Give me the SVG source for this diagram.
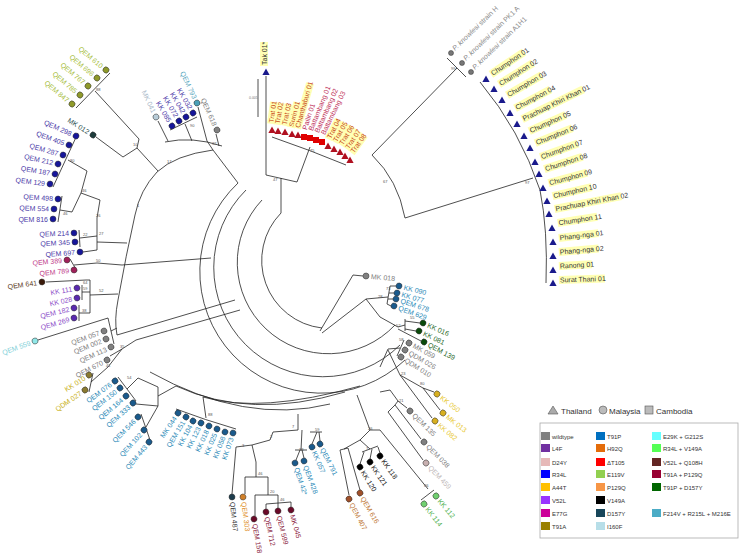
<svg xmlns="http://www.w3.org/2000/svg" width="740" height="557" viewBox="0 0 740 557">
<style>
text{font-family:"Liberation Sans",Arial,sans-serif}
.l{font-size:7px}
.b{font-size:4px;fill:#555}
.br{fill:none;stroke:#222;stroke-width:0.8}
.d{stroke:#333;stroke-width:0.5}
.hl{fill:#ffffb4}
.lg{font-size:6px;fill:#333}
.lt{font-size:8px;fill:#333}
</style>
<defs>
<path id="tri" d="M0,-3.6 L3.6,3 L-3.6,3Z"/>
</defs>
<rect width="740" height="557" fill="#fff"/>

<g id="connectors">
<!-- top-left -->
<path class="br" d="M110,73 L76,108 M95,91 L139,139 M96,137 L123,157 L137,148 L139,139 M137,148 L158,171"/>
<path class="br" d="M78,133 L53,187 M68,160 L87,171 L81,193 M62,196 L58,222 M60,210 L72,212 L81,193 M81,193 L100,200 L97,218 M79,230 L80,247 M80,238 L97,236 M83,252 L97,250 M97,218 L97,250 M97,242 L127,243 M70,259 L77,271 M74,265 L97,263 L122,265"/>
<path class="br" d="M213,150 Q175,155 157,172 Q140,190 135,215 Q126,255 118,300 Q114,320 117,335"/>
<!-- top inner -->
<path class="br" d="M158,121 L168,141 M170,130 L197,117 M185,124 L192,141 M198,107 L207,141 M216,134 L219,146 M165,142 Q192,136 222,146 M207,141 L213,150 M213,150 L238,183"/>
<!-- lower-left -->
<path class="br" d="M46,282 L86,280 M82,285 L82,300 M79,305 L79,321 M82,292 L90,292 M79,313 L90,313 M86,280 L90,280 M90,280 L90,313 M90,295 L118,294"/>
<path class="br" d="M38,340 L108,318 M108,318 L114,344 M111,331 L117,328 M110,356 L122,349 M122,349 L136,340 M93,373 L89,392 M91,382 L108,367 L122,349"/>
<!-- blue lower-left -->
<path class="br" d="M118,377 L136,401 M127,389 L138,378 L158,387 M141,414 L150,440 M146,427 L158,406 M136,404 L158,406 M158,387 L158,406 M158,396 L176,386"/>
<path class="br" d="M176,409 Q205,420 236,429 M206,418 L203,397"/>
<!-- bottom arcs -->
<path class="br" d="M150,372 Q245,425 330,404 M176,386 Q250,420 345,392 M203,397 Q260,414 360,386"/>
<!-- bottom centre -->
<path class="br" d="M232,494 L236,447 L252,445 L256,462 M245,494 L245,477 L268,477 M256,477 L256,462 M255,516 L255,495 L278,495 M268,495 L268,477 M266,509 L266,504 L291,502 L291,507 M278,508 L278,495 M252,445 L270,440 L273,432 L298,430 M296,460 L300,450 M304,458 L302,450 M295,450 L307,450 M301,450 L302,430 M312,444 L317,432 M320,441 L319,432 M310,432 L322,432 M298,430 L298,414"/>
<!-- bottom right -->
<path class="br" d="M349,495 L340,450 M360,490 L348,448 M340,450 L348,448 M344,449 L360,440 M360,464 L364,452 M370,459 L372,449 M380,453 L378,447 M362,452 L378,446 M370,449 L360,440 M360,440 L370,430 L380,430 M380,430 L428,489 M421,500 L434,490 M370,430 L357,395"/>
<path class="br" d="M423,460 L388,412 M421,439 L395,405 M407,408 L398,401 M388,412 L395,405 L398,401 L390,390 M390,390 L380,392"/>
<path class="br" d="M400,375 L423,388 M423,388 L434,392 M423,388 L440,410 M400,375 L432,418 M400,375 L388,350"/>
<path class="br" d="M404,340 L397,356 M400,348 L388,349 M388,349 L380,367 M420,323 L405,321 M416,331 L405,329 M405,319 L405,331 M405,325 L398,327 M421,341 L398,329 M398,327 L380,317 M390,286 L387,304 M396,286 L390,286 M394,293 L389,293 M393,299 L388,299 M391,306 L387,304 M388,297 L366,299 L380,317 M366,299 L322,333 M363,276 L353,275 L320,331"/>
<!-- centre -->
<path class="br" d="M266,76 L266,175 L297,182 M297,182 L310,147 M281,178 L281,213"/>
<path class="br" d="M272,137 Q310,150 346,165"/>
<path class="br" d="M447,58 L466,77 M457,68 L372,155 M372,155 Q398,180 405,218 M405,218 L533,178"/>
<path class="br" d="M480,82 Q520,130 540,190 Q548,230 546,283"/>
<path class="br" d="M281,213 A68,68 0 0,0 322,328 M262,200 A90,90 0 0,0 395,325 M246,190 A108,108 0 0,0 400,345 M238,183 A120,120 0 0,0 405,360"/>
<path class="br" d="M122,265 L211,258 M117,335 L235,300 M136,340 L240,310"/>
<path class="br" d="M258,79 L258,117"/>
</g>
<text x="249" y="99" style="font-size:3.5px;fill:#777">0.005</text>
<g id="bootstrap">
<text class="b" x="96" y="91">88</text>
<text class="b" x="133" y="146">10</text>
<text class="b" x="167" y="163">17</text>
<text class="b" x="70" y="162">80</text>
<text class="b" x="82" y="192">46</text>
<text class="b" x="63" y="215">46</text>
<text class="b" x="96" y="217">26</text>
<text class="b" x="83" y="236">22</text>
<text class="b" x="99" y="235">27</text>
<text class="b" x="96" y="262">50</text>
<text class="b" x="137" y="207">1</text>
<text class="b" x="99" y="292">52</text>
<text class="b" x="83" y="284">64</text>
<text class="b" x="83" y="290">59</text>
<text class="b" x="82" y="312">38</text>
<text class="b" x="120" y="348">35</text>
<text class="b" x="106" y="367">41</text>
<text class="b" x="127" y="379">54</text>
<text class="b" x="190" y="127">90</text>
<text class="b" x="212" y="145">32</text>
<text class="b" x="273" y="181">47</text>
<text class="b" x="310" y="152">75</text>
<text class="b" x="383" y="183">67</text>
<text class="b" x="525" y="184">97</text>
<text class="b" x="451" y="70">99</text>
<text class="b" x="386" y="290">73</text>
<text class="b" x="378" y="298">28</text>
<text class="b" x="410" y="319">55</text>
<text class="b" x="396" y="327">52</text>
<text class="b" x="399" y="341">58</text>
<text class="b" x="401" y="375">23</text>
<text class="b" x="420" y="385">80</text>
<text class="b" x="399" y="402">21</text>
<text class="b" x="424" y="487">86</text>
<text class="b" x="368" y="430">26</text>
<text class="b" x="366" y="450">7</text>
<text class="b" x="299" y="451">33</text>
<text class="b" x="292" y="428">7</text>
<text class="b" x="270" y="438">2</text>
<text class="b" x="242" y="447">3</text>
<text class="b" x="258" y="475">46</text>
<text class="b" x="270" y="493">20</text>
<text class="b" x="280" y="501">46</text>
<text class="b" x="315" y="431">59</text>
<text class="b" x="208" y="416">88</text>
</g>

<!-- Tak -->
<g id="n-Tak01"><use href="#tri" x="266" y="72" fill="#1a1a8c"/><g transform="translate(266,66) rotate(-90)"><rect class="hl" x="0" y="-6" width="24" height="8"/><text class="l" x="1" y="0.5" fill="#333">Tak 01*</text></g></g>

<!-- Trat cluster -->
<g id="n-Trat01"><use href="#tri" x="272" y="130" fill="#b01020"/><g transform="translate(273,124) rotate(-82)"><rect class="hl" x="0" y="-6" width="22" height="8"/><text class="l" x="1" y="0.5" fill="#c84a1a">Trat 01</text></g></g>
<g id="n-Trat02"><use href="#tri" x="278" y="131" fill="#b01020"/><g transform="translate(279,125) rotate(-80)"><rect class="hl" x="0" y="-6" width="22" height="8"/><text class="l" x="1" y="0.5" fill="#c84a1a">Trat 02</text></g></g>
<g id="n-Trat03"><use href="#tri" x="285" y="132" fill="#b01020"/><g transform="translate(286,126) rotate(-78)"><rect class="hl" x="0" y="-6" width="22" height="8"/><text class="l" x="1" y="0.5" fill="#c84a1a">Trat 03</text></g></g>
<g id="n-Surin01"><use href="#tri" x="292" y="134" fill="#b01020"/><g transform="translate(293,128) rotate(-76)"><rect class="hl" x="0" y="-6" width="26" height="8"/><text class="l" x="1" y="0.5" fill="#c84a1a">Surin 01</text></g></g>
<g id="n-Chanthaburi01"><use href="#tri" x="298" y="135" fill="#b01020"/><g transform="translate(299,129) rotate(-74)"><rect class="hl" x="0" y="-6" width="47" height="8"/><text class="l" x="1" y="0.5" fill="#c84a1a">Chanthaburi 01</text></g></g>
<g id="n-Pailin01"><rect x="301" y="134" width="6" height="6" fill="#e00000"/><text class="l" transform="translate(306,131) rotate(-72)" x="1" y="0.5" fill="#c0305a">Pailin 01</text></g>
<g id="n-Battambang01"><rect x="307" y="135" width="6" height="6" fill="#e00000"/><text class="l" transform="translate(312,132) rotate(-68)" x="1" y="0.5" fill="#c0305a">Battambang 01</text></g>
<g id="n-Battambang02"><rect x="313" y="137" width="6" height="6" fill="#e00000"/><text class="l" transform="translate(318,134) rotate(-66)" x="1" y="0.5" fill="#c0305a">Battambang 02</text></g>
<g id="n-Battambang03"><rect x="319" y="139" width="6" height="6" fill="#e00000"/><text class="l" transform="translate(324,136) rotate(-64)" x="1" y="0.5" fill="#c0305a">Battambang 03</text></g>
<g id="n-Trat04"><use href="#tri" x="328" y="146" fill="#b01020"/><g transform="translate(330,140) rotate(-62)"><rect class="hl" x="0" y="-6" width="22" height="8"/><text class="l" x="1" y="0.5" fill="#c84a1a">Trat 04</text></g></g>
<g id="n-Trat05"><use href="#tri" x="334" y="149" fill="#b01020"/><g transform="translate(336,143) rotate(-60)"><rect class="hl" x="0" y="-6" width="22" height="8"/><text class="l" x="1" y="0.5" fill="#c84a1a">Trat 05</text></g></g>
<g id="n-Trat06"><use href="#tri" x="340" y="152" fill="#b01020"/><g transform="translate(342,146) rotate(-58)"><rect class="hl" x="0" y="-6" width="22" height="8"/><text class="l" x="1" y="0.5" fill="#c84a1a">Trat 06</text></g></g>
<g id="n-Trat07"><use href="#tri" x="345" y="156" fill="#b01020"/><g transform="translate(348,150) rotate(-56)"><rect class="hl" x="0" y="-6" width="22" height="8"/><text class="l" x="1" y="0.5" fill="#c84a1a">Trat 07</text></g></g>
<g id="n-Trat08"><use href="#tri" x="350" y="160" fill="#b01020"/><g transform="translate(353,154) rotate(-54)"><rect class="hl" x="0" y="-6" width="22" height="8"/><text class="l" x="1" y="0.5" fill="#c84a1a">Trat 08</text></g></g>

<!-- knowlesi -->
<g id="n-PkH"><circle class="d" cx="451" cy="53" r="2.5" fill="#777"/><text class="l" transform="translate(455,51) rotate(-44)" fill="#888"><tspan font-style="italic">P. knowlesi</tspan> strain H</text></g>
<g id="n-PkPK1A"><circle class="d" cx="462" cy="63" r="2.5" fill="#777"/><text class="l" transform="translate(466,61) rotate(-44)" fill="#888"><tspan font-style="italic">P. knowlesi</tspan> strain PK1 A</text></g>
<g id="n-PkA1H1"><circle class="d" cx="471" cy="72" r="2.5" fill="#777"/><text class="l" transform="translate(475,70) rotate(-44)" fill="#888"><tspan font-style="italic">P. knowlesi</tspan> strain A1H1</text></g>

<!-- Thai clade -->
<g id="n-Ch01"><use href="#tri" x="486" y="79" fill="#1a1a8c"/><g transform="translate(492,76) rotate(-34)"><rect class="hl" x="0" y="-6" width="40" height="8"/><text class="l" x="1" y="0.5" fill="#333">Chumphon 01</text></g></g>
<g id="n-Ch02"><use href="#tri" x="494" y="89" fill="#1a1a8c"/><g transform="translate(500,86) rotate(-32)"><rect class="hl" x="0" y="-6" width="40" height="8"/><text class="l" x="1" y="0.5" fill="#333">Chumphon 02</text></g></g>
<g id="n-Ch03"><use href="#tri" x="502" y="100" fill="#1a1a8c"/><g transform="translate(508,97) rotate(-30)"><rect class="hl" x="0" y="-6" width="40" height="8"/><text class="l" x="1" y="0.5" fill="#333">Chumphon 03</text></g></g>
<g id="n-Ch04"><use href="#tri" x="510" y="113" fill="#1a1a8c"/><g transform="translate(516,110) rotate(-28)"><rect class="hl" x="0" y="-6" width="40" height="8"/><text class="l" x="1" y="0.5" fill="#333">Chumphon 04</text></g></g>
<g id="n-PKK01"><use href="#tri" x="517" y="124" fill="#1a1a8c"/><g transform="translate(523,121) rotate(-26)"><rect class="hl" x="0" y="-6" width="68" height="8"/><text class="l" x="1" y="0.5" fill="#333">Prachuap Khiri Khan 01</text></g></g>
<g id="n-Ch05"><use href="#tri" x="524" y="136" fill="#1a1a8c"/><g transform="translate(530,133) rotate(-24)"><rect class="hl" x="0" y="-6" width="40" height="8"/><text class="l" x="1" y="0.5" fill="#333">Chumphon 05</text></g></g>
<g id="n-Ch06"><use href="#tri" x="530" y="148" fill="#1a1a8c"/><g transform="translate(536,145) rotate(-22)"><rect class="hl" x="0" y="-6" width="40" height="8"/><text class="l" x="1" y="0.5" fill="#333">Chumphon 06</text></g></g>
<g id="n-Ch07"><use href="#tri" x="535" y="162" fill="#1a1a8c"/><g transform="translate(541,159) rotate(-20)"><rect class="hl" x="0" y="-6" width="40" height="8"/><text class="l" x="1" y="0.5" fill="#333">Chumphon 07</text></g></g>
<g id="n-Ch08"><use href="#tri" x="539" y="174" fill="#1a1a8c"/><g transform="translate(545,171) rotate(-18)"><rect class="hl" x="0" y="-6" width="40" height="8"/><text class="l" x="1" y="0.5" fill="#333">Chumphon 08</text></g></g>
<g id="n-Ch09"><use href="#tri" x="543" y="188" fill="#1a1a8c"/><g transform="translate(549,185) rotate(-15)"><rect class="hl" x="0" y="-6" width="40" height="8"/><text class="l" x="1" y="0.5" fill="#333">Chumphon 09</text></g></g>
<g id="n-Ch10"><use href="#tri" x="547" y="201" fill="#1a1a8c"/><g transform="translate(553,198) rotate(-13)"><rect class="hl" x="0" y="-6" width="40" height="8"/><text class="l" x="1" y="0.5" fill="#333">Chumphon 10</text></g></g>
<g id="n-PKK02"><use href="#tri" x="549" y="214" fill="#1a1a8c"/><g transform="translate(555,211) rotate(-11)"><rect class="hl" x="0" y="-6" width="68" height="8"/><text class="l" x="1" y="0.5" fill="#333">Prachuap Khiri Khan 02</text></g></g>
<g id="n-Ch11"><use href="#tri" x="552" y="228" fill="#1a1a8c"/><g transform="translate(558,225) rotate(-9)"><rect class="hl" x="0" y="-6" width="40" height="8"/><text class="l" x="1" y="0.5" fill="#333">Chumphon 11</text></g></g>
<g id="n-Pn01"><use href="#tri" x="553" y="242" fill="#1a1a8c"/><g transform="translate(559,240) rotate(-7)"><rect class="hl" x="0" y="-6" width="40" height="8"/><text class="l" x="1" y="0.5" fill="#333">Phang-nga 01</text></g></g>
<g id="n-Pn02"><use href="#tri" x="553" y="256" fill="#1a1a8c"/><g transform="translate(559,254) rotate(-5)"><rect class="hl" x="0" y="-6" width="40" height="8"/><text class="l" x="1" y="0.5" fill="#333">Phang-nga 02</text></g></g>
<g id="n-Ranong01"><use href="#tri" x="553" y="270" fill="#1a1a8c"/><g transform="translate(559,268) rotate(-3)"><rect class="hl" x="0" y="-6" width="33" height="8"/><text class="l" x="1" y="0.5" fill="#333">Ranong 01</text></g></g>
<g id="n-Surat01"><use href="#tri" x="553" y="283" fill="#1a1a8c"/><g transform="translate(559,282) rotate(-2)"><rect class="hl" x="0" y="-6" width="46" height="8"/><text class="l" x="1" y="0.5" fill="#333">Surat Thani 01</text></g></g>

<!-- left side leaves -->
<g id="n-QEM610" transform="translate(106,70) rotate(40)"><circle class="d" r="3" fill="#8f9a2a"/><text class="l" x="-5" y="2.5" text-anchor="end" fill="#a6bd3c">QEM 610</text></g>
<g id="n-QEM696" transform="translate(97,78) rotate(40)"><circle class="d" r="3" fill="#8f9a2a"/><text class="l" x="-5" y="2.5" text-anchor="end" fill="#a6bd3c">QEM 696</text></g>
<g id="n-QEM767" transform="translate(88,86) rotate(40)"><circle class="d" r="3" fill="#8f9a2a"/><text class="l" x="-5" y="2.5" text-anchor="end" fill="#a6bd3c">QEM 767</text></g>
<g id="n-QEM785" transform="translate(80,95) rotate(40)"><circle class="d" r="3" fill="#8f9a2a"/><text class="l" x="-5" y="2.5" text-anchor="end" fill="#a6bd3c">QEM 785</text></g>
<g id="n-QEM847" transform="translate(72,104) rotate(40)"><circle class="d" r="3" fill="#8f9a2a"/><text class="l" x="-5" y="2.5" text-anchor="end" fill="#a6bd3c">QEM 847</text></g>
<g id="n-MK012" transform="translate(93,135) rotate(32)"><circle class="d" r="3" fill="#1e3c3c"/><text class="l" x="-5" y="2.5" text-anchor="end" fill="#2e5050">MK 012</text></g>
<g id="n-QEM298" transform="translate(76,136) rotate(24)"><circle class="d" r="3" fill="#16169a"/><text class="l" x="-5" y="2.5" text-anchor="end" fill="#4a3aa8">QEM 298</text></g>
<g id="n-QEM405" transform="translate(69,145) rotate(20)"><circle class="d" r="3" fill="#16169a"/><text class="l" x="-5" y="2.5" text-anchor="end" fill="#4a3aa8">QEM 405</text></g>
<g id="n-QEM287" transform="translate(63,155) rotate(16)"><circle class="d" r="3" fill="#16169a"/><text class="l" x="-5" y="2.5" text-anchor="end" fill="#4a3aa8">QEM 287</text></g>
<g id="n-QEM212" transform="translate(58,164) rotate(13)"><circle class="d" r="3" fill="#16169a"/><text class="l" x="-5" y="2.5" text-anchor="end" fill="#4a3aa8">QEM 212</text></g>
<g id="n-QEM187" transform="translate(55,174) rotate(10)"><circle class="d" r="3" fill="#16169a"/><text class="l" x="-5" y="2.5" text-anchor="end" fill="#4a3aa8">QEM 187</text></g>
<g id="n-QEM129" transform="translate(50,184) rotate(7)"><circle class="d" r="3" fill="#16169a"/><text class="l" x="-5" y="2.5" text-anchor="end" fill="#4a3aa8">QEM 129</text></g>
<g id="n-QEM498" transform="translate(58,199) rotate(4)"><circle class="d" r="3" fill="#16169a"/><text class="l" x="-5" y="2.5" text-anchor="end" fill="#4a3aa8">QEM 498</text></g>
<g id="n-QEM554" transform="translate(54,209) rotate(2)"><circle class="d" r="3" fill="#16169a"/><text class="l" x="-5" y="2.5" text-anchor="end" fill="#4a3aa8">QEM 554</text></g>
<g id="n-QEM816" transform="translate(53,219) rotate(0)"><circle class="d" r="3" fill="#16169a"/><text class="l" x="-5" y="2.5" text-anchor="end" fill="#4a3aa8">QEM 816</text></g>
<g id="n-QEM214" transform="translate(74,233) rotate(-2)"><circle class="d" r="3" fill="#16169a"/><text class="l" x="-5" y="2.5" text-anchor="end" fill="#4a3aa8">QEM 214</text></g>
<g id="n-QEM345" transform="translate(75,242) rotate(-3)"><circle class="d" r="3" fill="#16169a"/><text class="l" x="-5" y="2.5" text-anchor="end" fill="#4a3aa8">QEM 345</text></g>
<g id="n-QEM697" transform="translate(80,252) rotate(-4)"><circle class="d" r="3" fill="#16169a"/><text class="l" x="-5" y="2.5" text-anchor="end" fill="#4a3aa8">QEM 697</text></g>
<g id="n-QEM389" transform="translate(67,260) rotate(-5)"><circle class="d" r="3" fill="#a0205a"/><text class="l" x="-5" y="2.5" text-anchor="end" fill="#c03c8a">QEM 389</text></g>
<g id="n-QEM789" transform="translate(74,270) rotate(-6)"><circle class="d" r="3" fill="#a0205a"/><text class="l" x="-5" y="2.5" text-anchor="end" fill="#c03c8a">QEM 789</text></g>
<g id="n-QEM641" transform="translate(42,282) rotate(-8)"><circle class="d" r="3" fill="#3a1a0a"/><text class="l" x="-5" y="2.5" text-anchor="end" fill="#5a3a1a">QEM 641</text></g>
<g id="n-KK111" transform="translate(77,288) rotate(-10)"><circle class="d" r="3" fill="#5a2ab0"/><text class="l" x="-5" y="2.5" text-anchor="end" fill="#8a4ac8">KK 111</text></g>
<g id="n-KK028" transform="translate(77,298) rotate(-12)"><circle class="d" r="3" fill="#5a2ab0"/><text class="l" x="-5" y="2.5" text-anchor="end" fill="#8a4ac8">KK 028</text></g>
<g id="n-QEM182" transform="translate(74,308) rotate(-14)"><circle class="d" r="3" fill="#5a2ab0"/><text class="l" x="-5" y="2.5" text-anchor="end" fill="#8a4ac8">QEM 182</text></g>
<g id="n-QEM269" transform="translate(74,318) rotate(-16)"><circle class="d" r="3" fill="#5a2ab0"/><text class="l" x="-5" y="2.5" text-anchor="end" fill="#8a4ac8">QEM 269</text></g>
<g id="n-QEM559" transform="translate(35,341) rotate(-20)"><circle class="d" r="3" fill="#90e8e8"/><text class="l" x="-5" y="2.5" text-anchor="end" fill="#80d0d8">QEM 559</text></g>
<g id="n-QEM057" transform="translate(104,331) rotate(-20)"><circle class="d" r="3" fill="#808080"/><text class="l" x="-5" y="2.5" text-anchor="end" fill="#808080">QEM 057</text></g>
<g id="n-QEM002" transform="translate(106,339) rotate(-22)"><circle class="d" r="3" fill="#808080"/><text class="l" x="-5" y="2.5" text-anchor="end" fill="#808080">QEM 002</text></g>
<g id="n-QEM113" transform="translate(111,347) rotate(-24)"><circle class="d" r="3" fill="#808080"/><text class="l" x="-5" y="2.5" text-anchor="end" fill="#808080">QEM 113</text></g>
<g id="n-QEM670" transform="translate(107,360) rotate(-27)"><circle class="d" r="3" fill="#808080"/><text class="l" x="-5" y="2.5" text-anchor="end" fill="#808080">QEM 670</text></g>
<g id="n-KK010" transform="translate(89,375) rotate(-32)"><circle class="d" r="3" fill="#8a7a30"/><text class="l" x="-5" y="2.5" text-anchor="end" fill="#c8b020">KK 010</text></g>
<g id="n-QDM027" transform="translate(85,390) rotate(-34)"><circle class="d" r="3" fill="#8a7a30"/><text class="l" x="-5" y="2.5" text-anchor="end" fill="#c8b020">QDM 027</text></g>
<g id="n-QEM076" transform="translate(115,381) rotate(-36)"><circle class="d" r="3" fill="#1a5a8c"/><text class="l" x="-5" y="2.5" text-anchor="end" fill="#2b8ab8">QEM 076</text></g>
<g id="n-QEM150" transform="translate(120,388) rotate(-38)"><circle class="d" r="3" fill="#1a5a8c"/><text class="l" x="-5" y="2.5" text-anchor="end" fill="#2b8ab8">QEM 150</text></g>
<g id="n-QEM164" transform="translate(126,396) rotate(-40)"><circle class="d" r="3" fill="#1a5a8c"/><text class="l" x="-5" y="2.5" text-anchor="end" fill="#2b8ab8">QEM 164</text></g>
<g id="n-QEM333" transform="translate(133,403) rotate(-42)"><circle class="d" r="3" fill="#1a5a8c"/><text class="l" x="-5" y="2.5" text-anchor="end" fill="#2b8ab8">QEM 333</text></g>
<g id="n-QEM546" transform="translate(138,417) rotate(-45)"><circle class="d" r="3" fill="#1a5a8c"/><text class="l" x="-5" y="2.5" text-anchor="end" fill="#2b8ab8">QEM 546</text></g>
<g id="n-QEM102" transform="translate(144,430) rotate(-48)"><circle class="d" r="3" fill="#1a5a8c"/><text class="l" x="-5" y="2.5" text-anchor="end" fill="#2b8ab8">QEM 102</text></g>
<g id="n-QEM443" transform="translate(149,442) rotate(-50)"><circle class="d" r="3" fill="#1a5a8c"/><text class="l" x="-5" y="2.5" text-anchor="end" fill="#2b8ab8">QEM 443</text></g>
<g id="n-MK044" transform="translate(178,413) rotate(-56)"><circle class="d" r="3" fill="#1a5a8c"/><text class="l" x="-5" y="2.5" text-anchor="end" fill="#2b8ab8">MK 044</text></g>
<g id="n-QEM151" transform="translate(186,417) rotate(-59)"><circle class="d" r="3" fill="#1a5a8c"/><text class="l" x="-5" y="2.5" text-anchor="end" fill="#2b8ab8">QEM 151</text></g>
<g id="n-KK104" transform="translate(193,421) rotate(-61)"><circle class="d" r="3" fill="#1a5a8c"/><text class="l" x="-5" y="2.5" text-anchor="end" fill="#2b8ab8">KK 104</text></g>
<g id="n-KK123" transform="translate(201,423) rotate(-63)"><circle class="d" r="3" fill="#1a5a8c"/><text class="l" x="-5" y="2.5" text-anchor="end" fill="#2b8ab8">KK 123</text></g>
<g id="n-KK018" transform="translate(209,426) rotate(-65)"><circle class="d" r="3" fill="#1a5a8c"/><text class="l" x="-5" y="2.5" text-anchor="end" fill="#2b8ab8">KK 018</text></g>
<g id="n-KK025" transform="translate(217,429) rotate(-67)"><circle class="d" r="3" fill="#1a5a8c"/><text class="l" x="-5" y="2.5" text-anchor="end" fill="#2b8ab8">KK 025</text></g>
<g id="n-KK058" transform="translate(225,432) rotate(-69)"><circle class="d" r="3" fill="#1a5a8c"/><text class="l" x="-5" y="2.5" text-anchor="end" fill="#2b8ab8">KK 058</text></g>
<g id="n-KK073" transform="translate(233,433) rotate(-71)"><circle class="d" r="3" fill="#1a5a8c"/><text class="l" x="-5" y="2.5" text-anchor="end" fill="#2b8ab8">KK 073</text></g>

<!-- top inner leaves -->
<g id="n-MK041" transform="translate(156,117) rotate(65)"><circle class="d" r="3" fill="#b8ccd8"/><text class="l" x="-5" y="2.5" text-anchor="end" fill="#a8b8c8">MK 041</text></g>
<g id="n-KK085" transform="translate(172,126) rotate(60)"><circle class="d" r="3" fill="#16169a"/><text class="l" x="-5" y="2.5" text-anchor="end" fill="#4a3aa8">KK 085</text></g>
<g id="n-KK072" transform="translate(179,121) rotate(60)"><circle class="d" r="3" fill="#16169a"/><text class="l" x="-5" y="2.5" text-anchor="end" fill="#4a3aa8">KK 072</text></g>
<g id="n-KK042" transform="translate(186,117) rotate(60)"><circle class="d" r="3" fill="#16169a"/><text class="l" x="-5" y="2.5" text-anchor="end" fill="#4a3aa8">KK 042</text></g>
<g id="n-KK032" transform="translate(193,113) rotate(60)"><circle class="d" r="3" fill="#16169a"/><text class="l" x="-5" y="2.5" text-anchor="end" fill="#4a3aa8">KK 032</text></g>
<g id="n-QEM793" transform="translate(197,103) rotate(65)"><circle class="d" r="3" fill="#4aa0b8"/><text class="l" x="-5" y="2.5" text-anchor="end" fill="#5aa8c0">QEM 793</text></g>
<g id="n-QEM618" transform="translate(217,130) rotate(66)"><circle class="d" r="3" fill="#808080"/><text class="l" x="-5" y="2.5" text-anchor="end" fill="#808080">QEM 618</text></g>

<!-- bottom leaves -->
<g id="n-QEM487" transform="translate(232,497) rotate(84)"><circle class="d" r="3" fill="#1c3c4c"/><text class="l" x="5" y="2.5" fill="#333">QEM 487</text></g>
<g id="n-QEM303" transform="translate(243,497) rotate(82)"><circle class="d" r="3" fill="#d0802a"/><text class="l" x="5" y="2.5" fill="#e0902a">QEM 303</text></g>
<g id="n-QEM158" transform="translate(254,519) rotate(80)"><circle class="d" r="3" fill="#6a0a28"/><text class="l" x="5" y="2.5" fill="#8a1a40">QEM 158</text></g>
<g id="n-QEM712" transform="translate(266,512) rotate(78)"><circle class="d" r="3" fill="#6a0a28"/><text class="l" x="5" y="2.5" fill="#8a1a40">QEM 712</text></g>
<g id="n-QEM599" transform="translate(278,511) rotate(76)"><circle class="d" r="3" fill="#6a0a28"/><text class="l" x="5" y="2.5" fill="#8a1a40">QEM 599</text></g>
<g id="n-MK045" transform="translate(291,510) rotate(74)"><circle class="d" r="3" fill="#6a0a28"/><text class="l" x="5" y="2.5" fill="#8a1a40">MK 045</text></g>
<g id="n-QEM42x" transform="translate(295,463) rotate(72)"><circle class="d" r="3" fill="#1a5a8c"/><text class="l" x="5" y="2.5" fill="#2b8ab8">QEM 42*</text></g>
<g id="n-QEM428" transform="translate(304,461) rotate(70)"><circle class="d" r="3" fill="#1a5a8c"/><text class="l" x="5" y="2.5" fill="#2b8ab8">QEM 428</text></g>
<g id="n-KK057" transform="translate(312,447) rotate(66)"><circle class="d" r="3" fill="#1a5a8c"/><text class="l" x="5" y="2.5" fill="#2b8ab8">KK 057</text></g>
<g id="n-QEM791" transform="translate(320,444) rotate(63)"><circle class="d" r="3" fill="#1a5a8c"/><text class="l" x="5" y="2.5" fill="#2b8ab8">QEM 791</text></g>
<g id="n-QEM407" transform="translate(349,499) rotate(62)"><circle class="d" r="3" fill="#a0502a"/><text class="l" x="5" y="2.5" fill="#c07a3a">QEM 407</text></g>
<g id="n-QEM616" transform="translate(360,493) rotate(60)"><circle class="d" r="3" fill="#a0502a"/><text class="l" x="5" y="2.5" fill="#c07a3a">QEM 616</text></g>
<g id="n-KK120" transform="translate(360,467) rotate(58)"><circle class="d" r="3" fill="#000"/><text class="l" x="5" y="2.5" fill="#111">KK 120</text></g>
<g id="n-KK121" transform="translate(370,462) rotate(56)"><circle class="d" r="3" fill="#000"/><text class="l" x="5" y="2.5" fill="#111">KK 121</text></g>
<g id="n-KK118" transform="translate(380,456) rotate(54)"><circle class="d" r="3" fill="#000"/><text class="l" x="5" y="2.5" fill="#111">KK 118</text></g>
<g id="n-KK114" transform="translate(424,504) rotate(52)"><circle class="d" r="3" fill="#70d070" stroke="#2a7a2a"/><text class="l" x="5" y="2.5" fill="#50b050">KK 114</text></g>
<g id="n-KK112" transform="translate(436,496) rotate(50)"><circle class="d" r="3" fill="#70d070" stroke="#2a7a2a"/><text class="l" x="5" y="2.5" fill="#50b050">KK 112</text></g>
<g id="n-QEM459" transform="translate(426,463) rotate(46)"><circle class="d" r="3" fill="#c8b0b0"/><text class="l" x="5" y="2.5" fill="#c0b8b8">QEM 459</text></g>
<g id="n-QEM038" transform="translate(424,442) rotate(45)"><circle class="d" r="3" fill="#808080"/><text class="l" x="5" y="2.5" fill="#808080">QEM 038</text></g>
<g id="n-QEM135" transform="translate(410,411) rotate(44)"><circle class="d" r="3" fill="#808080"/><text class="l" x="5" y="2.5" fill="#808080">QEM 135</text></g>
<g id="n-KK082" transform="translate(435,421) rotate(40)"><circle class="d" r="3" fill="#d8b020"/><text class="l" x="5" y="2.5" fill="#e8c830">KK 082</text></g>
<g id="n-MK013" transform="translate(443,413) rotate(38)"><circle class="d" r="3" fill="#d8b020"/><text class="l" x="5" y="2.5" fill="#e8c830">MK 013</text></g>
<g id="n-KK050" transform="translate(437,394) rotate(37)"><circle class="d" r="3" fill="#d8b020"/><text class="l" x="5" y="2.5" fill="#e8c830">KK 050</text></g>
<g id="n-QDM010" transform="translate(401,357) rotate(32)"><circle class="d" r="3" fill="#808080"/><text class="l" x="5" y="2.5" fill="#808080">QDM 010</text></g>
<g id="n-QDM026" transform="translate(405,350) rotate(30)"><circle class="d" r="3" fill="#808080"/><text class="l" x="5" y="2.5" fill="#808080">QDM 026</text></g>
<g id="n-MK059" transform="translate(409,343) rotate(28)"><circle class="d" r="3" fill="#808080"/><text class="l" x="5" y="2.5" fill="#808080">MK 059</text></g>
<g id="n-QEM139" transform="translate(424,342) rotate(28)"><circle class="d" r="3" fill="#0a4a0a"/><text class="l" x="5" y="2.5" fill="#2a6a2a">QEM 139</text></g>
<g id="n-KK081" transform="translate(419,331) rotate(25)"><circle class="d" r="3" fill="#0a4a0a"/><text class="l" x="5" y="2.5" fill="#2a6a2a">KK 081</text></g>
<g id="n-KK016" transform="translate(423,323) rotate(23)"><circle class="d" r="3" fill="#0a4a0a"/><text class="l" x="5" y="2.5" fill="#2a6a2a">KK 016</text></g>
<g id="n-QEM629" transform="translate(394,306) rotate(20)"><circle class="d" r="3" fill="#1a5a8c"/><text class="l" x="5" y="2.5" fill="#2b8ab8">QEM 629</text></g>
<g id="n-QEM678" transform="translate(396,299) rotate(18)"><circle class="d" r="3" fill="#1a5a8c"/><text class="l" x="5" y="2.5" fill="#2b8ab8">QEM 678</text></g>
<g id="n-KK077" transform="translate(397,293) rotate(16)"><circle class="d" r="3" fill="#1a5a8c"/><text class="l" x="5" y="2.5" fill="#2b8ab8">KK 077</text></g>
<g id="n-KK090" transform="translate(399,286) rotate(14)"><circle class="d" r="3" fill="#1a5a8c"/><text class="l" x="5" y="2.5" fill="#2b8ab8">KK 090</text></g>
<g id="n-MK018" transform="translate(366,276) rotate(5)"><circle class="d" r="3" fill="#808080"/><text class="l" x="5" y="2.5" fill="#808080">MK 018</text></g>

<!-- legend -->
<g id="legend-country">
<path d="M548,414 L553,406 L558,414Z" fill="#aaa" stroke="#555" stroke-width="0.6"/>
<text class="lt" x="561" y="414">Thailand</text>
<circle cx="603" cy="410" r="4" fill="#bbb" stroke="#555" stroke-width="0.6"/>
<text class="lt" x="609" y="414">Malaysia</text>
<rect x="645" y="406" width="8" height="8" fill="#bbb" stroke="#555" stroke-width="0.6"/>
<text class="lt" x="656" y="414">Cambodia</text>
</g>
<g id="legend">
<rect x="540" y="423" width="198" height="115" fill="#fff" stroke="#aaa" stroke-width="0.8"/>
<rect x="541" y="432" width="9" height="8" fill="#808080"/><text class="lg" x="552" y="438.5">wildtype</text>
<rect x="541" y="444" width="9" height="8" fill="#7030a0"/><text class="lg" x="552" y="450.5">L4F</text>
<rect x="541" y="458" width="9" height="8" fill="#e6b9b8"/><text class="lg" x="552" y="464.5">D24Y</text>
<rect x="541" y="470" width="9" height="8" fill="#0000ff"/><text class="lg" x="552" y="476.5">R34L</text>
<rect x="541" y="483" width="9" height="8" fill="#ffc000"/><text class="lg" x="552" y="489.5">A44T</text>
<rect x="541" y="496" width="9" height="8" fill="#9933ff"/><text class="lg" x="552" y="502.5">V52L</text>
<rect x="541" y="509" width="9" height="8" fill="#cc0099"/><text class="lg" x="552" y="515.5">E77G</text>
<rect x="541" y="522" width="9" height="8" fill="#998000"/><text class="lg" x="552" y="528.5">T91A</text>
<rect x="596" y="432" width="9" height="8" fill="#0070c0"/><text class="lg" x="607" y="438.5">T91P</text>
<rect x="596" y="444" width="9" height="8" fill="#e46c0a"/><text class="lg" x="607" y="450.5">H92Q</text>
<rect x="596" y="458" width="9" height="8" fill="#ff0000"/><text class="lg" x="607" y="464.5">ΔT105</text>
<rect x="596" y="470" width="9" height="8" fill="#92d050"/><text class="lg" x="607" y="476.5">E119V</text>
<rect x="596" y="483" width="9" height="8" fill="#f79646"/><text class="lg" x="607" y="489.5">P129Q</text>
<rect x="596" y="496" width="9" height="8" fill="#000000"/><text class="lg" x="607" y="502.5">V149A</text>
<rect x="596" y="509" width="9" height="8" fill="#17465a"/><text class="lg" x="607" y="515.5">D157Y</text>
<rect x="596" y="522" width="9" height="8" fill="#b7dee8"/><text class="lg" x="607" y="528.5">I160F</text>
<rect x="652" y="432" width="9" height="8" fill="#66ffff"/><text class="lg" x="663" y="438.5">E29K + G212S</text>
<rect x="652" y="444" width="9" height="8" fill="#55ff55"/><text class="lg" x="663" y="450.5">R34L + V149A</text>
<rect x="652" y="458" width="9" height="8" fill="#632523"/><text class="lg" x="663" y="464.5">V52L + Q108H</text>
<rect x="652" y="470" width="9" height="8" fill="#990033"/><text class="lg" x="663" y="476.5">T91A + P129Q</text>
<rect x="652" y="483" width="9" height="8" fill="#006600"/><text class="lg" x="663" y="489.5">T91P + D157Y</text>
<rect x="652" y="509" width="9" height="8" fill="#4bacc6"/><text class="lg" x="663" y="515.5">F214V + R215L + M216E</text>
</g>
</svg>
